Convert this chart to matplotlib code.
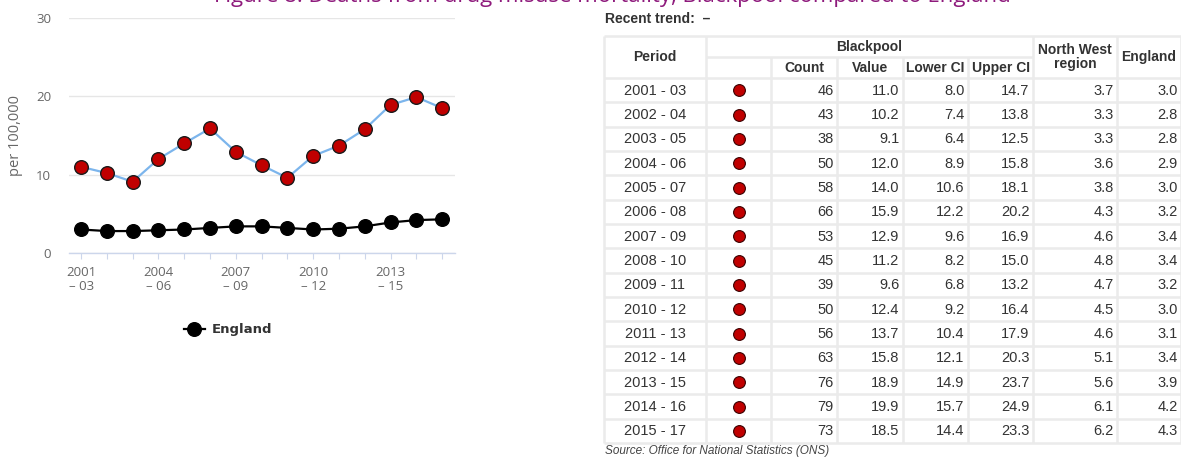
import matplotlib
matplotlib.use("Agg")
import matplotlib.pyplot as plt

# ---------------- data ----------------
periods = ["2001 - 03", "2002 - 04", "2003 - 05", "2004 - 06", "2005 - 07",
           "2006 - 08", "2007 - 09", "2008 - 10", "2009 - 11", "2010 - 12",
           "2011 - 13", "2012 - 14", "2013 - 15", "2014 - 16", "2015 - 17"]
tick_labels = ["2001\n\u2013 03", "", "", "2004\n\u2013 06", "", "", "2007\n\u2013 09", "", "",
               "2010\n\u2013 12", "", "", "2013\n\u2013 15", "", ""]
count = [46, 43, 38, 50, 58, 66, 53, 45, 39, 50, 56, 63, 76, 79, 73]
value = [11.0, 10.2, 9.1, 12.0, 14.0, 15.9, 12.9, 11.2, 9.6, 12.4, 13.7, 15.8, 18.9, 19.9, 18.5]
lower_ci = [8.0, 7.4, 6.4, 8.9, 10.6, 12.2, 9.6, 8.2, 6.8, 9.2, 10.4, 12.1, 14.9, 15.7, 14.4]
upper_ci = [14.7, 13.8, 12.5, 15.8, 18.1, 20.2, 16.9, 15.0, 13.2, 16.4, 17.9, 20.3, 23.7, 24.9, 23.3]
north_west = [3.7, 3.3, 3.3, 3.6, 3.8, 4.3, 4.6, 4.8, 4.7, 4.5, 4.6, 5.1, 5.6, 6.1, 6.2]
england = [3.0, 2.8, 2.8, 2.9, 3.0, 3.2, 3.4, 3.4, 3.2, 3.0, 3.1, 3.4, 3.9, 4.2, 4.3]
y_ticks = [0, 10, 20, 30]

title = "Figure 8: Deaths from drug misuse mortality, Blackpool compared to England"

# ---------------- figure ----------------
W, H = 1181, 457
fig = plt.figure(figsize=(W / 100, H / 100), dpi=100)


def px_rect(x0, y0, x1, y1):
    return [x0 / W, 1 - y1 / H, (x1 - x0) / W, (y1 - y0) / H]


# ---------------- left line chart ----------------
ax = fig.add_axes(px_rect(69, 18, 455, 253))
xs = list(range(len(periods)))
ax.plot(xs, value, color="#7cb5ec", lw=1.6, marker="o", ms=9.8,
        mfc="#c00000", mec="#1a1a1a", mew=1.0, zorder=3, clip_on=False)
eng_line, = ax.plot(xs, england, color="black", lw=1.6, marker="o", ms=9.8,
                    mfc="black", mec="black", zorder=3, clip_on=False)
ax.set_xlim(-0.47, 14.5)
ax.set_ylim(0, 30)
ax.set_yticks(y_ticks)
ax.grid(axis="y", color="#e6e6e6", lw=1)
ax.set_axisbelow(True)
for s in ["top", "right", "left"]:
    ax.spines[s].set_visible(False)
ax.spines["bottom"].set_color("#ccd6eb")
ax.spines["bottom"].set_linewidth(1)
ax.set_xticks(xs)
ax.set_xticklabels(tick_labels, fontsize=9.5, color="#666666", family="Open Sans",
                   linespacing=1.15)
ax.tick_params(axis="x", length=4, color="#ccd6eb", pad=5)
ax.tick_params(axis="y", length=0, pad=13, labelsize=9.5, labelcolor="#666666")
for t in ax.get_yticklabels():
    t.set_family("Open Sans")
ax.set_ylabel("per 100,000", fontsize=10.5, color="#666666", family="Open Sans")
ax.yaxis.set_label_coords(-0.12, 0.5)

leg = fig.legend(handles=[eng_line], labels=["England"], loc="center",
                 bbox_to_anchor=(228 / W, 1 - 330 / H), frameon=False,
                 prop=dict(weight="bold", size=9.5), handlelength=1.6,
                 handletextpad=0.5)
for t in leg.get_texts():
    t.set_color("#333333")

# ---------------- table (pixel coordinate overlay) ----------------
tx = fig.add_axes([0, 0, 1, 1])
tx.set_xlim(0, W)
tx.set_ylim(H, 0)
tx.axis("off")
tx.patch.set_visible(False)

tx.text(612, 2, title, ha="center", va="baseline", fontsize=16,
        color="#8e1a7c", family="Open Sans", clip_on=False)
tx.text(605, 19, "Recent trend:  \u2013", ha="left", va="center", fontsize=10,
        weight="bold", color="#333333", family="Liberation Sans")
tx.text(605, 451, "Source: Office for National Statistics (ONS)", ha="left",
        va="center", fontsize=8.5, style="italic", color="#444444",
        family="Liberation Sans")

col_edges = [604, 706, 771, 837, 903, 968, 1033, 1117, 1181]
top, mid, head_bot = 36, 57, 78
row_h = (443 - head_bot) / len(periods)
row_edges = [head_bot + i * row_h for i in range(len(periods) + 1)]
grid_c = "#ebebeb"
glw = 1.8

# horizontal lines
tx.hlines([top, head_bot] + row_edges[1:], col_edges[0], col_edges[-1],
          color=grid_c, lw=glw)
tx.hlines(mid, col_edges[1], col_edges[6], color=grid_c, lw=glw)
# vertical lines
for i, xe in enumerate(col_edges):
    if i in (2, 3, 4, 5):
        tx.vlines(xe, mid, row_edges[-1], color=grid_c, lw=glw)
    else:
        tx.vlines(xe, top, row_edges[-1], color=grid_c, lw=glw)

hdr = dict(fontsize=10, weight="bold", color="#333333", family="Liberation Sans",
           ha="center", va="center")
tx.text((col_edges[0] + col_edges[1]) / 2, (top + head_bot) / 2, "Period", **hdr)
tx.text((col_edges[1] + col_edges[6]) / 2, (top + mid) / 2 + 0.5, "Blackpool", **hdr)
for j, name in zip(range(2, 6), ["Count", "Value", "Lower CI", "Upper CI"]):
    tx.text((col_edges[j] + col_edges[j + 1]) / 2, (mid + head_bot) / 2 + 0.5, name, **hdr)
tx.text((col_edges[6] + col_edges[7]) / 2, (top + head_bot) / 2, "North West\nregion",
        linespacing=1.05, **hdr)
tx.text((col_edges[7] + col_edges[8]) / 2, (top + head_bot) / 2, "England", **hdr)

cell = dict(fontsize=10.5, color="#333333", family="Liberation Sans", va="center")
centers = [(row_edges[i] + row_edges[i + 1]) / 2 for i in range(len(periods))]
cols_vals = [
    [str(c) for c in count],
    [f"{v:.1f}" for v in value],
    [f"{v:.1f}" for v in lower_ci],
    [f"{v:.1f}" for v in upper_ci],
    [f"{v:.1f}" for v in north_west],
    [f"{v:.1f}" for v in england],
]
col_idx = [2, 3, 4, 5, 6, 7]
for i, yc in enumerate(centers):
    tx.text((col_edges[0] + col_edges[1]) / 2, yc + 0.5, periods[i], ha="center", **cell)
    for vals, j in zip(cols_vals, col_idx):
        tx.text(col_edges[j + 1] - 3.5, yc + 0.5, vals[i], ha="right", **cell)

tx.scatter([(col_edges[1] + col_edges[2]) / 2] * len(periods), centers,
           s=72, c="#c00000", edgecolors="#3a0000", linewidths=0.8, zorder=4)

fig.savefig("out.png", dpi=100)
